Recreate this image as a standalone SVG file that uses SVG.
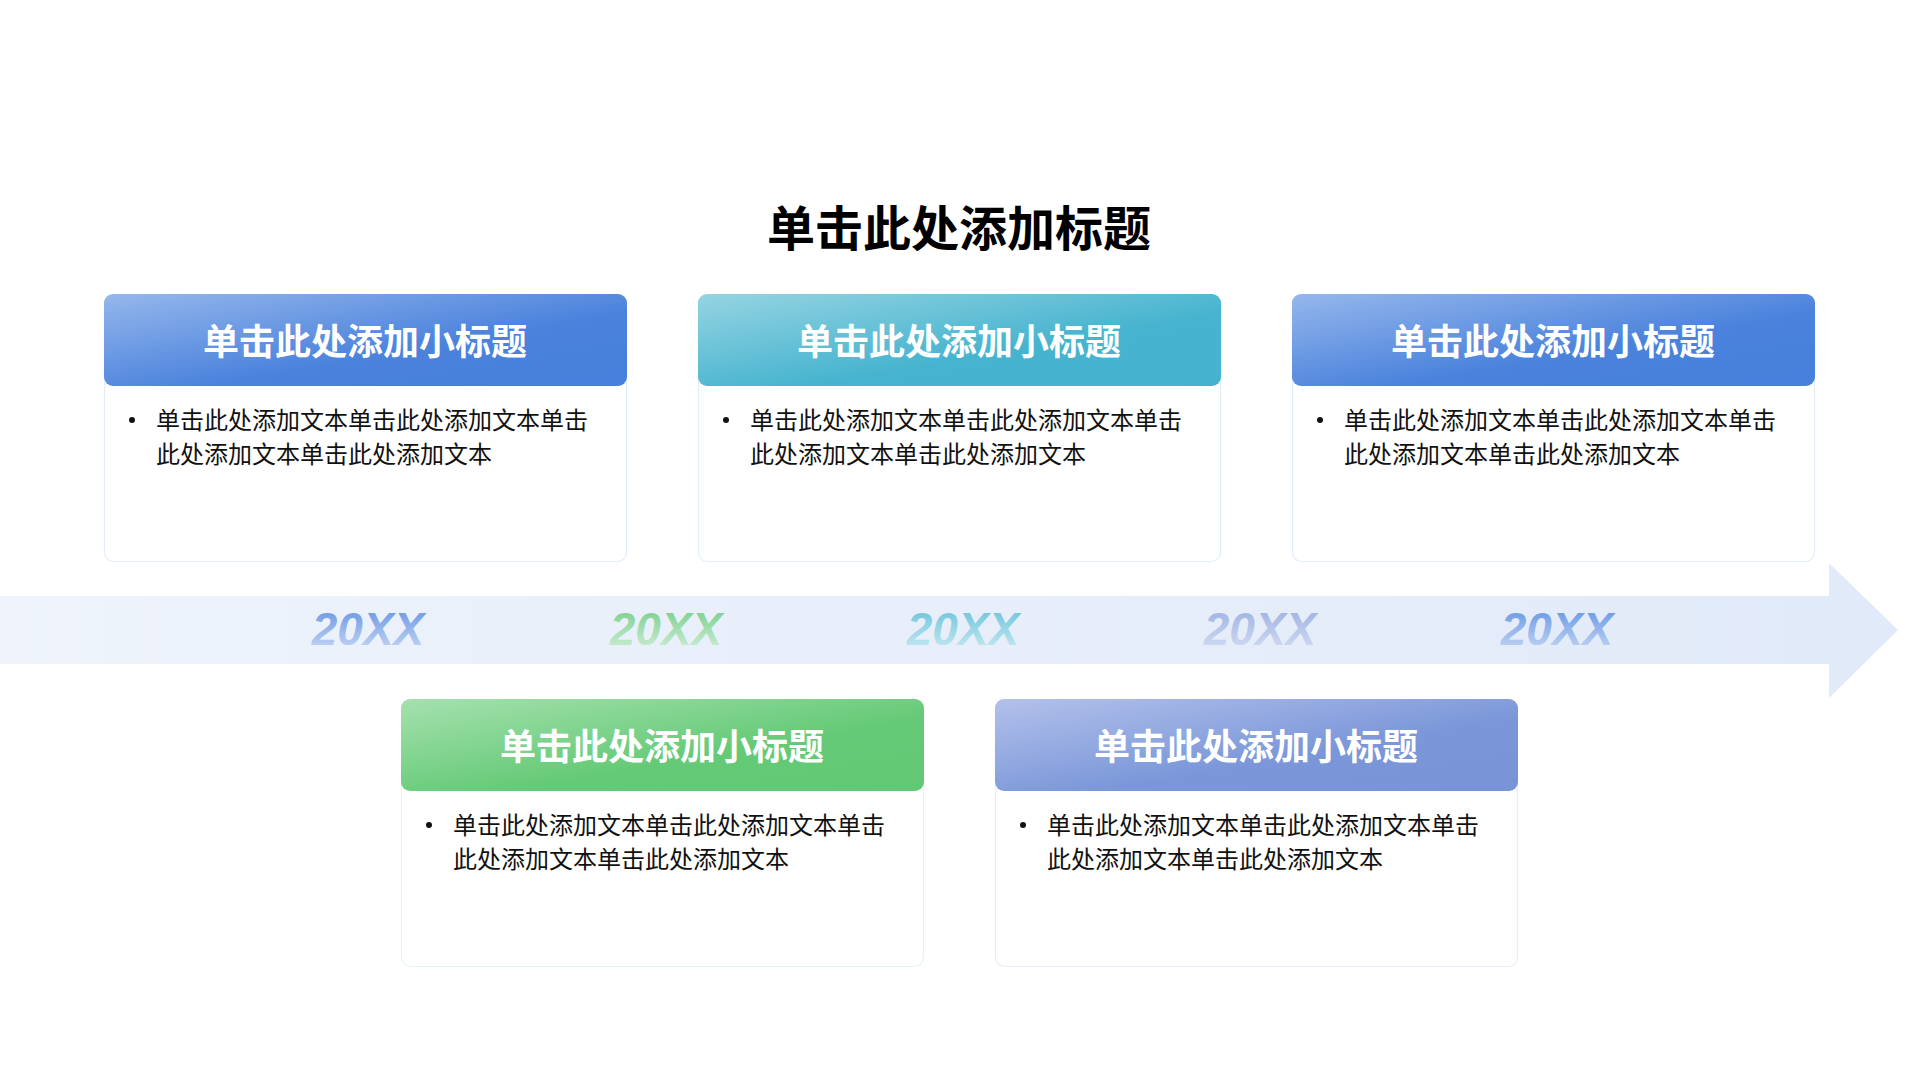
<svg xmlns="http://www.w3.org/2000/svg" width="1920" height="1080" viewBox="0 0 1920 1080">
<defs>
<linearGradient id="gBlue" x1="0" y1="0" x2="1" y2="1"><stop offset="0" stop-color="#95b7ec"/><stop offset="0.6" stop-color="#4a82dc"/><stop offset="1" stop-color="#4680dc"/></linearGradient>
<linearGradient id="gTeal" x1="0" y1="0" x2="1" y2="1"><stop offset="0" stop-color="#95d4e2"/><stop offset="0.6" stop-color="#47b4cf"/><stop offset="1" stop-color="#45b2ce"/></linearGradient>
<linearGradient id="gGreen" x1="0" y1="0" x2="1" y2="1"><stop offset="0" stop-color="#a5e1ae"/><stop offset="0.6" stop-color="#65ca77"/><stop offset="1" stop-color="#62c874"/></linearGradient>
<linearGradient id="gLav" x1="0" y1="0" x2="1" y2="1"><stop offset="0" stop-color="#b3c1eb"/><stop offset="0.6" stop-color="#7b97d9"/><stop offset="1" stop-color="#7893d6"/></linearGradient>
<linearGradient id="gBand" x1="0" y1="0" x2="1" y2="0"><stop offset="0" stop-color="#eef3fc"/><stop offset="1" stop-color="#e1eaf8"/></linearGradient>
<linearGradient id="yBlue" x1="0" y1="0" x2="0" y2="1"><stop offset="0" stop-color="#5f90e2"/><stop offset="1" stop-color="#cddcf5"/></linearGradient>
<linearGradient id="yGreen" x1="0" y1="0" x2="0" y2="1"><stop offset="0" stop-color="#70cc83"/><stop offset="1" stop-color="#d6efdd"/></linearGradient>
<linearGradient id="yTeal" x1="0" y1="0" x2="0" y2="1"><stop offset="0" stop-color="#62c0d8"/><stop offset="1" stop-color="#d0ecf3"/></linearGradient>
<linearGradient id="yLav" x1="0" y1="0" x2="0" y2="1"><stop offset="0" stop-color="#98ace0"/><stop offset="1" stop-color="#d7e0f4"/></linearGradient>
<linearGradient id="yBlue2" x1="0" y1="0" x2="0" y2="1"><stop offset="0" stop-color="#5c90e3"/><stop offset="1" stop-color="#cbdbf5"/></linearGradient>
</defs>
<style>
.title{font-family:"Noto Sans CJK SC","Noto Sans",sans-serif;font-weight:700;font-size:48px;fill:#000;text-anchor:middle}
.head{font-family:"Noto Sans CJK SC","Noto Sans",sans-serif;font-weight:700;font-size:36px;fill:#fff;text-anchor:middle}
.body{font-family:"Noto Sans CJK SC","Noto Sans",sans-serif;font-size:24px;fill:#111}
.year{font-family:"Liberation Sans",Arial,sans-serif;font-weight:700;font-style:italic;font-size:46px;text-anchor:middle}
.card{fill:#fff;stroke-width:1.2}
</style>
<rect width="1920" height="1080" fill="#fff"/>
<g id="title"><text class="title" x="959" y="246">单击此处添加标题</text></g>
<g id="timeline">
<path d="M0 596 H1829 V563 L1898 630 L1829 698 V664 H0 Z" fill="url(#gBand)"/>
</g>
<g id="years">
<text class="year" x="368" y="645" fill="url(#yBlue)">20XX</text>
<text class="year" x="666" y="645" fill="url(#yGreen)">20XX</text>
<text class="year" x="963" y="645" fill="url(#yTeal)">20XX</text>
<text class="year" x="1260" y="645" fill="url(#yLav)">20XX</text>
<text class="year" x="1557" y="645" fill="url(#yBlue2)">20XX</text>
</g>
<g id="card1">
<rect class="card" x="104.5" y="294.5" width="522" height="267" rx="9" stroke="#e4ecf8"/>
<rect x="104" y="294" width="523" height="92" rx="9" fill="url(#gBlue)"/>
<text class="head" x="365" y="355">单击此处添加小标题</text>
<circle cx="132" cy="420" r="3" fill="#111"/>
<text class="body" x="156" y="429">单击此处添加文本单击此处添加文本单击</text>
<text class="body" x="156" y="463">此处添加文本单击此处添加文本</text>
</g>
<g id="card2">
<rect class="card" x="698.5" y="294.5" width="522" height="267" rx="9" stroke="#e0f2f6"/>
<rect x="698" y="294" width="523" height="92" rx="9" fill="url(#gTeal)"/>
<text class="head" x="959" y="355">单击此处添加小标题</text>
<circle cx="726" cy="420" r="3" fill="#111"/>
<text class="body" x="750" y="429">单击此处添加文本单击此处添加文本单击</text>
<text class="body" x="750" y="463">此处添加文本单击此处添加文本</text>
</g>
<g id="card3">
<rect class="card" x="1292.5" y="294.5" width="522" height="267" rx="9" stroke="#e4ecf8"/>
<rect x="1292" y="294" width="523" height="92" rx="9" fill="url(#gBlue)"/>
<text class="head" x="1553" y="355">单击此处添加小标题</text>
<circle cx="1320" cy="420" r="3" fill="#111"/>
<text class="body" x="1344" y="429">单击此处添加文本单击此处添加文本单击</text>
<text class="body" x="1344" y="463">此处添加文本单击此处添加文本</text>
</g>
<g id="card4">
<rect class="card" x="401.5" y="699.5" width="522" height="267" rx="9" stroke="#e6f5ea"/>
<rect x="401" y="699" width="523" height="92" rx="9" fill="url(#gGreen)"/>
<text class="head" x="662" y="760">单击此处添加小标题</text>
<circle cx="429" cy="825" r="3" fill="#111"/>
<text class="body" x="453" y="834">单击此处添加文本单击此处添加文本单击</text>
<text class="body" x="453" y="868">此处添加文本单击此处添加文本</text>
</g>
<g id="card5">
<rect class="card" x="995.5" y="699.5" width="522" height="267" rx="9" stroke="#e8ecf8"/>
<rect x="995" y="699" width="523" height="92" rx="9" fill="url(#gLav)"/>
<text class="head" x="1256" y="760">单击此处添加小标题</text>
<circle cx="1023" cy="825" r="3" fill="#111"/>
<text class="body" x="1047" y="834">单击此处添加文本单击此处添加文本单击</text>
<text class="body" x="1047" y="868">此处添加文本单击此处添加文本</text>
</g>
</svg>
